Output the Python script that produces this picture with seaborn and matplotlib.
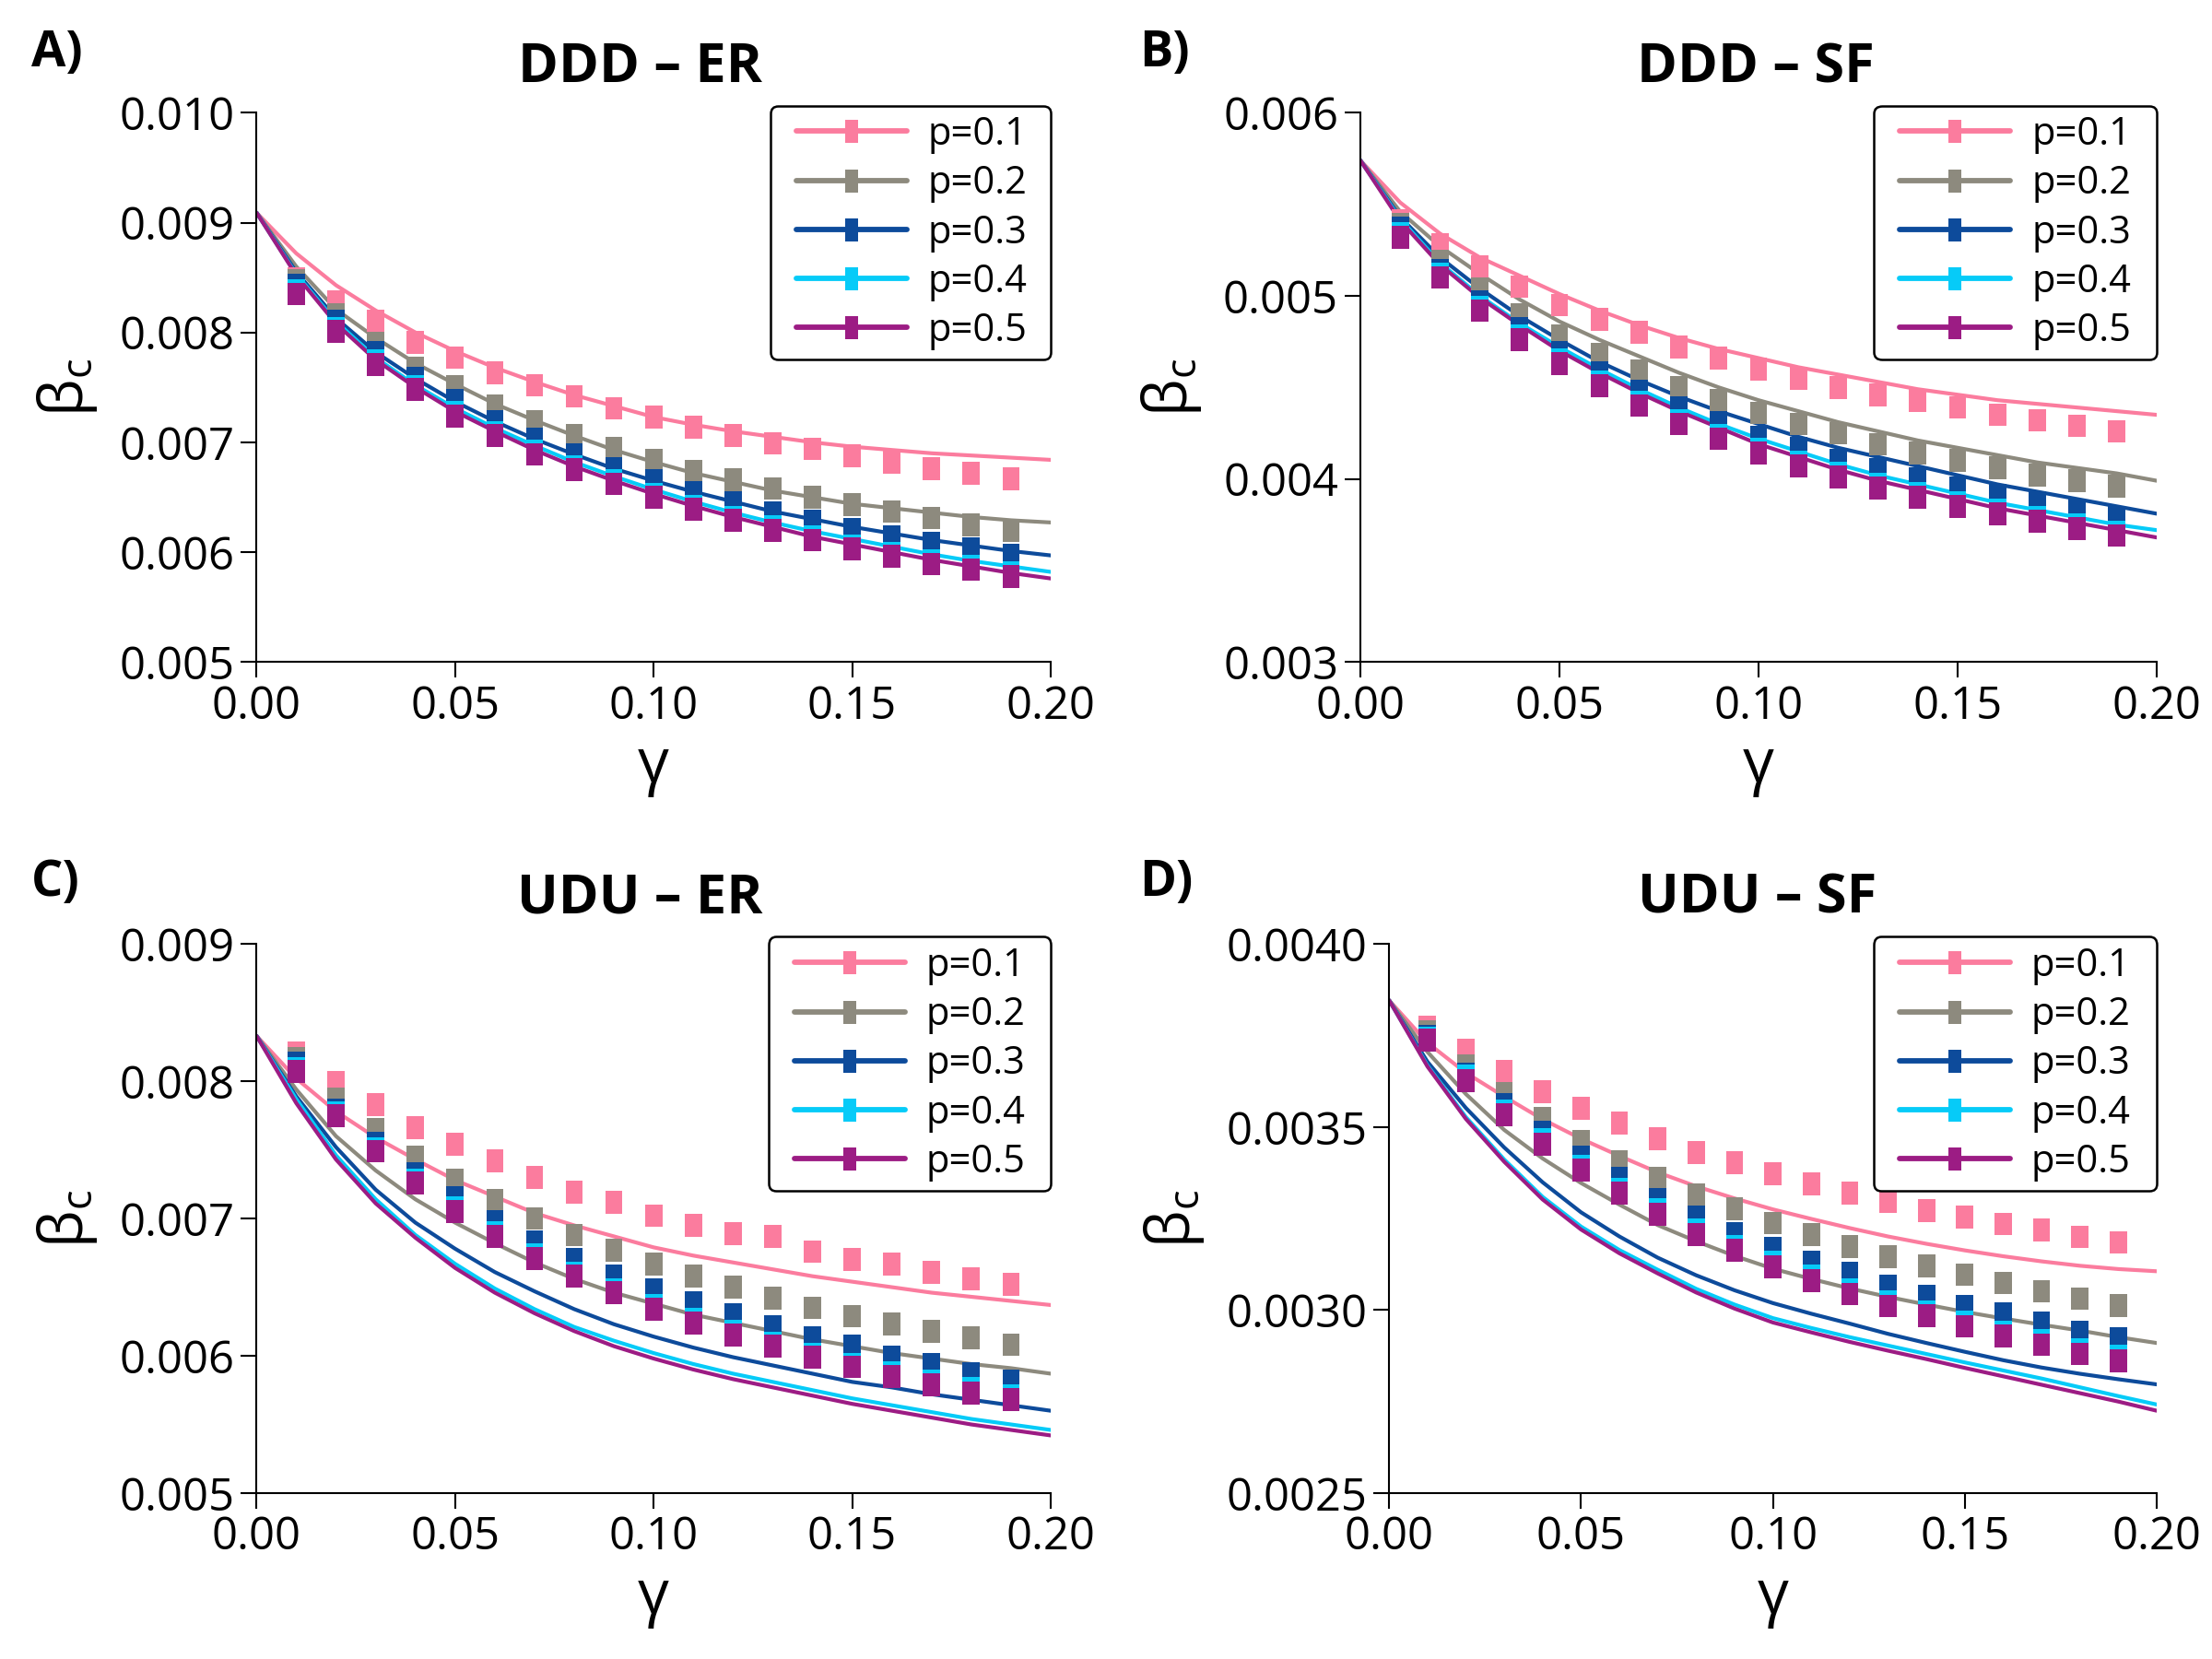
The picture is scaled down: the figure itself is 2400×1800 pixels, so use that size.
import matplotlib
matplotlib.use("Agg")
import matplotlib.pyplot as plt
import seaborn as sns
import pandas as pd
from matplotlib.lines import Line2D
from matplotlib.path import Path
from matplotlib.legend_handler import HandlerLine2D
from matplotlib.ticker import FormatStrFormatter

# ---------------- data ----------------
p_labels = ["p=0.1", "p=0.2", "p=0.3", "p=0.4", "p=0.5"]
colors = ["#FB7C9E", "#8D8A7E", "#0D4B9B", "#06CBF8", "#9C1C84"]

gamma_theory = [0.00, 0.01, 0.02, 0.03, 0.04, 0.05, 0.06, 0.07, 0.08, 0.09, 0.10,
                0.11, 0.12, 0.13, 0.14, 0.15, 0.16, 0.17, 0.18, 0.19, 0.20]
gamma_sim = [0.01, 0.02, 0.03, 0.04, 0.05, 0.06, 0.07, 0.08, 0.09, 0.10,
             0.11, 0.12, 0.13, 0.14, 0.15, 0.16, 0.17, 0.18, 0.19]

# Panel A: DDD - ER
ddd_er_theory = [
    [0.00909, 0.00872, 0.00843, 0.00820, 0.00800, 0.00783, 0.00768, 0.00755, 0.00743, 0.00733, 0.00723, 0.00716, 0.00710, 0.00705, 0.00700, 0.00696, 0.00693, 0.00690, 0.00688, 0.00686, 0.00684],
    [0.00909, 0.00860, 0.00821, 0.00795, 0.00772, 0.00753, 0.00735, 0.00720, 0.00706, 0.00693, 0.00682, 0.00672, 0.00664, 0.00656, 0.00650, 0.00644, 0.00640, 0.00636, 0.00632, 0.00629, 0.00627],
    [0.00909, 0.00855, 0.00813, 0.00782, 0.00758, 0.00737, 0.00719, 0.00703, 0.00689, 0.00676, 0.00665, 0.00655, 0.00646, 0.00637, 0.00630, 0.00623, 0.00617, 0.00611, 0.00606, 0.00601, 0.00597],
    [0.00909, 0.00853, 0.00810, 0.00777, 0.00752, 0.00731, 0.00713, 0.00697, 0.00682, 0.00669, 0.00657, 0.00646, 0.00636, 0.00627, 0.00619, 0.00612, 0.00605, 0.00598, 0.00592, 0.00587, 0.00582],
    [0.00909, 0.00852, 0.00808, 0.00775, 0.00750, 0.00728, 0.00710, 0.00693, 0.00678, 0.00665, 0.00653, 0.00642, 0.00632, 0.00623, 0.00614, 0.00607, 0.00600, 0.00593, 0.00587, 0.00581, 0.00576],
]
ddd_er_sim = [
    [0.00849, 0.00828, 0.00810, 0.00791, 0.00777, 0.00763, 0.00752, 0.00742, 0.00731, 0.00723, 0.00714, 0.00706, 0.00699, 0.00694, 0.00688, 0.00682, 0.00676, 0.00672, 0.00667],
    [0.00847, 0.00816, 0.00790, 0.00768, 0.00751, 0.00733, 0.00719, 0.00706, 0.00695, 0.00684, 0.00674, 0.00666, 0.00658, 0.00650, 0.00643, 0.00637, 0.00631, 0.00625, 0.00620],
    [0.00843, 0.00810, 0.00782, 0.00758, 0.00738, 0.00719, 0.00703, 0.00689, 0.00676, 0.00665, 0.00654, 0.00645, 0.00636, 0.00628, 0.00621, 0.00614, 0.00608, 0.00603, 0.00597],
    [0.00838, 0.00804, 0.00774, 0.00751, 0.00727, 0.00709, 0.00692, 0.00678, 0.00665, 0.00653, 0.00642, 0.00632, 0.00623, 0.00614, 0.00606, 0.00599, 0.00592, 0.00587, 0.00581],
    [0.00835, 0.00801, 0.00771, 0.00748, 0.00724, 0.00706, 0.00689, 0.00675, 0.00662, 0.00650, 0.00639, 0.00629, 0.00620, 0.00611, 0.00603, 0.00596, 0.00589, 0.00584, 0.00578],
]

# Panel B: DDD - SF
ddd_sf_theory = [
    [0.00574, 0.00551, 0.00534, 0.00521, 0.00511, 0.00501, 0.00492, 0.00484, 0.00477, 0.00471, 0.00466, 0.00461, 0.00457, 0.00453, 0.00449, 0.00446, 0.00443, 0.00441, 0.00439, 0.00437, 0.00435],
    [0.00574, 0.00546, 0.00527, 0.00512, 0.00498, 0.00486, 0.00476, 0.00467, 0.00458, 0.00450, 0.00443, 0.00437, 0.00431, 0.00426, 0.00421, 0.00417, 0.00413, 0.00409, 0.00406, 0.00403, 0.00399],
    [0.00574, 0.00543, 0.00521, 0.00504, 0.00489, 0.00476, 0.00464, 0.00454, 0.00445, 0.00437, 0.00430, 0.00423, 0.00417, 0.00412, 0.00407, 0.00402, 0.00397, 0.00393, 0.00389, 0.00385, 0.00381],
    [0.00574, 0.00542, 0.00518, 0.00500, 0.00485, 0.00472, 0.00460, 0.00449, 0.00439, 0.00430, 0.00422, 0.00415, 0.00408, 0.00402, 0.00397, 0.00392, 0.00387, 0.00383, 0.00379, 0.00375, 0.00372],
    [0.00574, 0.00541, 0.00517, 0.00499, 0.00484, 0.00470, 0.00458, 0.00447, 0.00437, 0.00428, 0.00419, 0.00412, 0.00405, 0.00399, 0.00394, 0.00389, 0.00384, 0.00380, 0.00376, 0.00372, 0.00368],
]
ddd_sf_sim = [
    [0.00541, 0.00528, 0.00516, 0.00505, 0.00495, 0.00487, 0.00480, 0.00472, 0.00466, 0.00460, 0.00455, 0.00450, 0.00446, 0.00443, 0.00439, 0.00435, 0.00432, 0.00429, 0.00426],
    [0.00539, 0.00519, 0.00504, 0.00490, 0.00478, 0.00468, 0.00459, 0.00450, 0.00443, 0.00436, 0.00430, 0.00425, 0.00419, 0.00414, 0.00410, 0.00406, 0.00402, 0.00399, 0.00396],
    [0.00537, 0.00514, 0.00497, 0.00482, 0.00469, 0.00458, 0.00448, 0.00439, 0.00431, 0.00423, 0.00417, 0.00410, 0.00405, 0.00400, 0.00395, 0.00391, 0.00387, 0.00383, 0.00379],
    [0.00534, 0.00512, 0.00494, 0.00478, 0.00465, 0.00453, 0.00442, 0.00432, 0.00424, 0.00416, 0.00409, 0.00403, 0.00397, 0.00392, 0.00387, 0.00383, 0.00379, 0.00375, 0.00371],
    [0.00532, 0.00510, 0.00492, 0.00476, 0.00463, 0.00451, 0.00440, 0.00430, 0.00422, 0.00414, 0.00407, 0.00401, 0.00395, 0.00390, 0.00385, 0.00381, 0.00377, 0.00373, 0.00369],
]

# Panel C: UDU - ER
udu_er_theory = [
    [0.00833, 0.00802, 0.00778, 0.00759, 0.00743, 0.00728, 0.00716, 0.00704, 0.00695, 0.00687, 0.00679, 0.00673, 0.00668, 0.00663, 0.00658, 0.00654, 0.00650, 0.00646, 0.00643, 0.00640, 0.00637],
    [0.00833, 0.00794, 0.00760, 0.00735, 0.00714, 0.00697, 0.00682, 0.00668, 0.00656, 0.00646, 0.00638, 0.00630, 0.00624, 0.00618, 0.00612, 0.00607, 0.00602, 0.00598, 0.00594, 0.00591, 0.00587],
    [0.00833, 0.00789, 0.00752, 0.00721, 0.00697, 0.00678, 0.00661, 0.00647, 0.00634, 0.00623, 0.00614, 0.00606, 0.00599, 0.00593, 0.00587, 0.00581, 0.00577, 0.00572, 0.00568, 0.00564, 0.00560],
    [0.00833, 0.00787, 0.00746, 0.00714, 0.00688, 0.00667, 0.00649, 0.00634, 0.00621, 0.00611, 0.00602, 0.00594, 0.00587, 0.00581, 0.00575, 0.00569, 0.00564, 0.00559, 0.00554, 0.00550, 0.00546],
    [0.00833, 0.00784, 0.00743, 0.00711, 0.00686, 0.00664, 0.00646, 0.00631, 0.00618, 0.00607, 0.00598, 0.00590, 0.00583, 0.00577, 0.00571, 0.00565, 0.00560, 0.00555, 0.00550, 0.00546, 0.00542],
]
udu_er_sim = [
    [0.00821, 0.00799, 0.00783, 0.00766, 0.00754, 0.00742, 0.00730, 0.00719, 0.00712, 0.00702, 0.00695, 0.00689, 0.00687, 0.00676, 0.00670, 0.00667, 0.00661, 0.00656, 0.00652],
    [0.00817, 0.00787, 0.00765, 0.00745, 0.00728, 0.00713, 0.00700, 0.00688, 0.00677, 0.00667, 0.00658, 0.00650, 0.00642, 0.00635, 0.00629, 0.00623, 0.00618, 0.00613, 0.00608],
    [0.00813, 0.00779, 0.00755, 0.00733, 0.00715, 0.00698, 0.00683, 0.00670, 0.00658, 0.00648, 0.00639, 0.00630, 0.00621, 0.00613, 0.00607, 0.00599, 0.00594, 0.00587, 0.00582],
    [0.00809, 0.00777, 0.00751, 0.00728, 0.00708, 0.00690, 0.00674, 0.00660, 0.00648, 0.00637, 0.00627, 0.00618, 0.00609, 0.00601, 0.00594, 0.00588, 0.00582, 0.00576, 0.00571],
    [0.00807, 0.00775, 0.00749, 0.00726, 0.00705, 0.00687, 0.00671, 0.00658, 0.00646, 0.00634, 0.00624, 0.00615, 0.00607, 0.00599, 0.00592, 0.00585, 0.00579, 0.00573, 0.00568],
]

# Panel D: UDU - SF
udu_sf_theory = [
    [0.003846, 0.003730, 0.003648, 0.003583, 0.003521, 0.003468, 0.003421, 0.003376, 0.003338, 0.003305, 0.003275, 0.003249, 0.003224, 0.003201, 0.003181, 0.003163, 0.003147, 0.003133, 0.003121, 0.003112, 0.003106],
    [0.003846, 0.003705, 0.003590, 0.003492, 0.003414, 0.003347, 0.003288, 0.003232, 0.003188, 0.003148, 0.003113, 0.003085, 0.003059, 0.003036, 0.003015, 0.002995, 0.002977, 0.002960, 0.002944, 0.002926, 0.002910],
    [0.003846, 0.003678, 0.003552, 0.003444, 0.003349, 0.003267, 0.003201, 0.003143, 0.003095, 0.003054, 0.003019, 0.002990, 0.002963, 0.002935, 0.002910, 0.002886, 0.002863, 0.002843, 0.002826, 0.002811, 0.002797],
    [0.003846, 0.003668, 0.003527, 0.003411, 0.003309, 0.003228, 0.003164, 0.003110, 0.003058, 0.003015, 0.002978, 0.002951, 0.002926, 0.002903, 0.002880, 0.002857, 0.002835, 0.002813, 0.002789, 0.002765, 0.002742],
    [0.003846, 0.003665, 0.003522, 0.003405, 0.003302, 0.003220, 0.003155, 0.003100, 0.003048, 0.003004, 0.002966, 0.002939, 0.002913, 0.002889, 0.002866, 0.002842, 0.002819, 0.002796, 0.002773, 0.002750, 0.002725],
]
udu_sf_sim = [
    [0.003773, 0.003710, 0.003652, 0.003597, 0.003551, 0.003511, 0.003468, 0.003431, 0.003402, 0.003372, 0.003344, 0.003319, 0.003297, 0.003272, 0.003254, 0.003235, 0.003218, 0.003200, 0.003185],
    [0.003761, 0.003667, 0.003592, 0.003523, 0.003461, 0.003406, 0.003359, 0.003316, 0.003277, 0.003238, 0.003207, 0.003173, 0.003145, 0.003120, 0.003097, 0.003074, 0.003051, 0.003031, 0.003013],
    [0.003747, 0.003644, 0.003561, 0.003485, 0.003418, 0.003359, 0.003302, 0.003254, 0.003210, 0.003168, 0.003130, 0.003100, 0.003066, 0.003039, 0.003011, 0.002991, 0.002964, 0.002941, 0.002921],
    [0.003742, 0.003639, 0.003545, 0.003465, 0.003394, 0.003331, 0.003274, 0.003219, 0.003175, 0.003130, 0.003093, 0.003056, 0.003023, 0.002996, 0.002968, 0.002941, 0.002917, 0.002892, 0.002874],
    [0.003737, 0.003627, 0.003533, 0.003453, 0.003382, 0.003319, 0.003262, 0.003207, 0.003163, 0.003118, 0.003081, 0.003044, 0.003011, 0.002984, 0.002956, 0.002929, 0.002905, 0.002880, 0.002862],
]

panel_titles = ["DDD \u2013 ER", "DDD \u2013 SF", "UDU \u2013 ER", "UDU \u2013 SF"]
panel_letters = ["A)", "B)", "C)", "D)"]
y_ticks = [
    [0.005, 0.006, 0.007, 0.008, 0.009, 0.010],
    [0.003, 0.004, 0.005, 0.006],
    [0.005, 0.006, 0.007, 0.008, 0.009],
    [0.0025, 0.0030, 0.0035, 0.0040],
]
y_formats = ["%.3f", "%.3f", "%.3f", "%.4f"]
x_ticks = [0.00, 0.05, 0.10, 0.15, 0.20]

# ---------------- style ----------------
sns.set_theme(style="ticks")
plt.rcParams["font.family"] = ["Open Sans", "DejaVu Sans"]
plt.rcParams["axes.edgecolor"] = "black"
plt.rcParams["xtick.color"] = "black"
plt.rcParams["ytick.color"] = "black"
plt.rcParams["text.color"] = "black"
plt.rcParams["axes.labelcolor"] = "black"


def rect_path(hw):
    return Path([(-hw, -0.5), (hw, -0.5), (hw, 0.5), (-hw, 0.5), (-hw, -0.5)],
                [Path.MOVETO, Path.LINETO, Path.LINETO, Path.LINETO, Path.CLOSEPOLY])


rect = rect_path(0.38)
rect_leg = rect_path(0.27)

fig = plt.figure(figsize=(16, 12), dpi=150)
axes_pos = [
    [0.116, 0.601, 0.359, 0.331],
    [0.615, 0.601, 0.360, 0.331],
    [0.116, 0.100, 0.359, 0.331],
    [0.628, 0.100, 0.347, 0.331],
]
legend_w = [0.353, 0.355, 0.355, 0.369]
title_x = [0.483, 0.496, 0.483, 0.480]
letter_pos = [(0.014, 0.983), (0.515, 0.983), (0.014, 0.483), (0.515, 0.483)]

theories = [ddd_er_theory, ddd_sf_theory, udu_er_theory, udu_sf_theory]
sims = [ddd_er_sim, ddd_sf_sim, udu_er_sim, udu_sf_sim]

for i in range(4):
    ax = fig.add_axes(axes_pos[i])
    rows_t = []
    rows_s = []
    for k, lab in enumerate(p_labels):
        for g, b in zip(gamma_theory, theories[i][k]):
            rows_t.append({"gamma": g, "beta": b, "p": lab})
        for g, b in zip(gamma_sim, sims[i][k]):
            rows_s.append({"gamma": g, "beta": b, "p": lab})
    df_t = pd.DataFrame(rows_t)
    df_s = pd.DataFrame(rows_s)

    sns.lineplot(data=df_t, x="gamma", y="beta", hue="p", hue_order=p_labels,
                 palette=colors, linewidth=2.0, estimator=None, sort=False,
                 legend=False, ax=ax, zorder=2)
    sns.scatterplot(data=df_s, x="gamma", y="beta", hue="p", hue_order=p_labels,
                    palette=colors, marker=rect, s=140, linewidth=0,
                    legend=False, ax=ax, zorder=3)

    ax.set_xlim(0, 0.20)
    ax.set_ylim(y_ticks[i][0], y_ticks[i][-1])
    ax.set_xticks(x_ticks)
    ax.set_yticks(y_ticks[i])
    ax.xaxis.set_major_formatter(FormatStrFormatter("%.2f"))
    ax.yaxis.set_major_formatter(FormatStrFormatter(y_formats[i]))
    ax.tick_params(direction="out", length=8, width=1, labelsize=23.5, pad=3.5)
    for sp in ["left", "bottom"]:
        ax.spines[sp].set_linewidth(1.0)
    sns.despine(ax=ax)

    ax.set_xlabel("\u03b3", fontsize=32, labelpad=3)
    ax.set_ylabel("$\\mathregular{\u03b2_c}$", fontsize=31, labelpad=10)
    ax.set_title(panel_titles[i], fontsize=28.5, fontweight="bold", pad=16, x=title_x[i])

    handles = [Line2D([0], [0], color=c, lw=2.8, marker=rect_leg, markersize=12,
                      markeredgewidth=0) for c in colors]
    w = legend_w[i]
    leg = ax.legend(handles, p_labels, loc="upper right",
                    bbox_to_anchor=(1.0 - w, 0.5, w, 0.513), mode="expand",
                    fontsize=20, frameon=True, fancybox=True, framealpha=1,
                    edgecolor="black", handlelength=3.3, handletextpad=0.55,
                    labelspacing=0.27, borderpad=0.25, borderaxespad=0.0, numpoints=1,
                    handler_map={Line2D: HandlerLine2D(xpad=0.42)})
    leg.get_frame().set_linewidth(1.2)

    fig.text(letter_pos[i][0], letter_pos[i][1], panel_letters[i], fontsize=26,
             fontweight="bold", va="top", ha="left")

fig.savefig("out.png", dpi=150)
